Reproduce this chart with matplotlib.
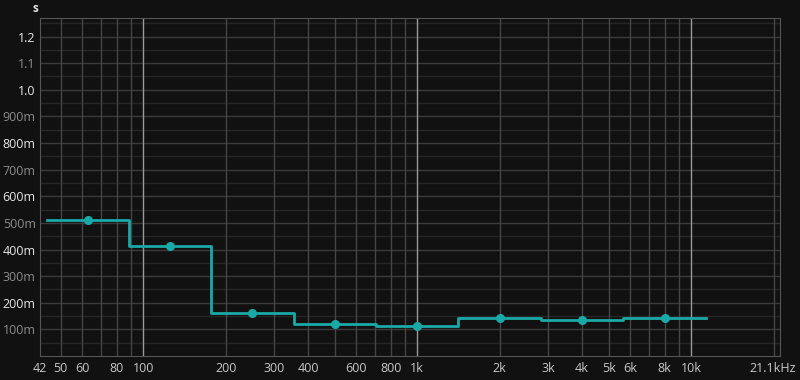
import matplotlib
matplotlib.use("Agg")
import matplotlib.pyplot as plt
import matplotlib.transforms as mtransforms

# octave band centres, band edges and reverb time values (s)
centers = [63, 125, 250, 500, 1000, 2000, 4000, 8000]
band_edges = [44.5, 88.4, 177, 354, 707, 1414, 2828, 5657, 11314]
rt_values = [0.510, 0.415, 0.162, 0.119, 0.114, 0.143, 0.134, 0.144]

x_ticks = [42, 50, 60, 80, 100, 200, 300, 400, 600, 800, 1000, 2000, 3000,
           4000, 5000, 6000, 8000, 10000, 21100]
x_labels = ["42", "50", "60", "80", "100", "200", "300", "400", "600", "800",
            "1k", "2k", "3k", "4k", "5k", "6k", "8k", "10k", "21.1kHz"]
y_ticks = [0.1, 0.2, 0.3, 0.4, 0.5, 0.6, 0.7, 0.8, 0.9, 1.0, 1.1, 1.2]
y_labels = ["100m", "200m", "300m", "400m", "500m", "600m", "700m", "800m",
            "900m", "1.0", "1.1", "1.2"]

bg = "#111111"
teal = "#19a9a7"
plt.rcParams['font.family'] = ['Open Sans', 'DejaVu Sans']

fig = plt.figure(figsize=(8, 3.8), dpi=100, facecolor=bg)
ax = fig.add_axes([0.05, 0.063, 0.925, 0.89], facecolor=bg)
ax.set_xscale("log")
ax.set_xlim(42, 21100)
ax.set_ylim(0, 1.27)

# grid
for i in range(1, 26):
    y = i * 0.05
    ax.axhline(y, color="#3a3a3a" if i % 2 == 0 else "#262626", lw=1, zorder=1)
minor_x = [50, 60, 70, 80, 90, 200, 300, 400, 500, 600, 700, 800, 900,
           2000, 3000, 4000, 5000, 6000, 7000, 8000, 9000, 20000]
for x in minor_x:
    ax.axvline(x, color="#454545", lw=1, zorder=1)
for x in [100, 1000, 10000]:
    ax.axvline(x, color="#9a9a9a", lw=1, zorder=1)

# data
ax.step(band_edges, rt_values + [rt_values[-1]], where="post", color=teal,
        lw=2, zorder=3)
ax.plot(centers, rt_values, "o", color=teal, ms=5.5, zorder=4)

ax.set_xticks(x_ticks)
ax.set_xticklabels(x_labels)
ax.minorticks_off()
ax.set_yticks(y_ticks)
ax.set_yticklabels(y_labels)
ax.tick_params(length=0, labelsize=9, colors="#c8c8c8", pad=4)
ax.tick_params(axis="y", pad=3)
for lbl, v in zip(ax.get_yticklabels(), y_ticks):
    if round(v * 10) % 2 == 0:
        lbl.set_color("#e6e6e6")
    else:
        lbl.set_color("#8c8c8c")

# keep the last frequency label inside the figure
last = ax.get_xticklabels()[-1]
last.set_horizontalalignment("right")
last.set_transform(last.get_transform() +
                   mtransforms.ScaledTranslation(16 / 100, 0, fig.dpi_scale_trans))

for s in ax.spines.values():
    s.set_color("#555555")

fig.text(0.044, 0.977, "s", color="#e0e0e0", fontsize=8.5, fontweight="bold",
         ha="center", va="center")

fig.savefig("out.png", dpi=100, facecolor=bg)
